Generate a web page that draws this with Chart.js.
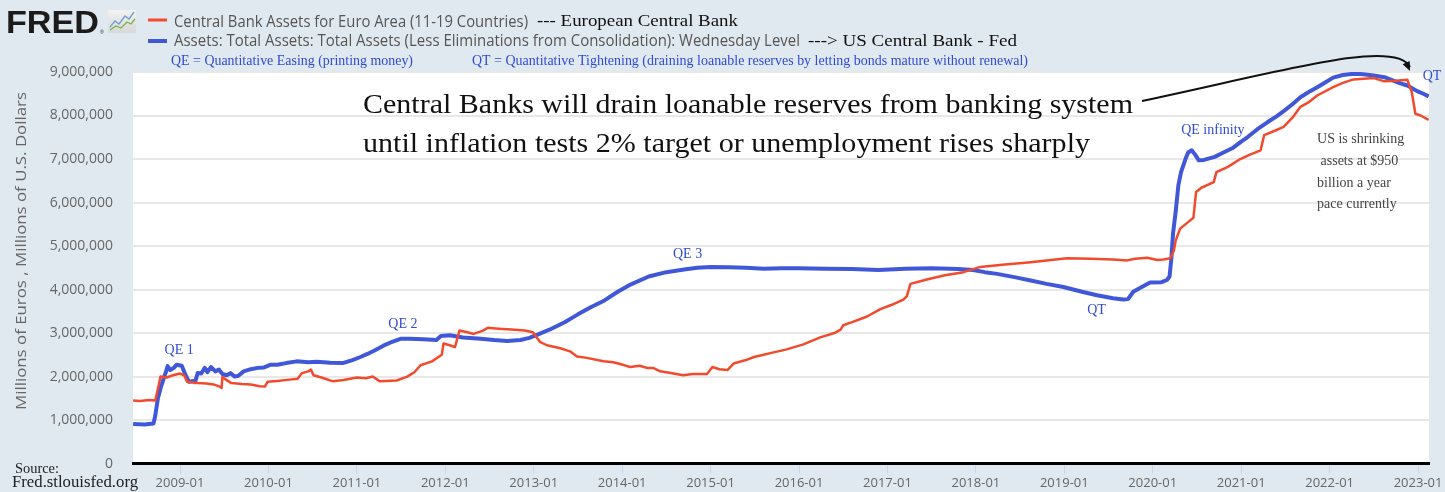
<!DOCTYPE html>
<html>
<head>
<meta charset="utf-8">
<script src="https://cdn.jsdelivr.net/npm/chart.js@4.4.1/dist/chart.umd.min.js"></script>
<style>
  html, body { margin: 0; padding: 0; background: #e1e9f0; overflow: hidden; }
  #wrap { position: relative; width: 1445px; height: 492px; }
</style>
</head>
<body>
<div id="wrap"><canvas id="fred" width="1445" height="492"></canvas></div>
<script>
// Fed total assets (WALCL), millions of U.S. dollars, x = decimal year
const fedDates = [
  2008.47, 2008.60, 2008.70, 2008.72, 2008.75, 2008.79, 2008.84, 2008.86, 2008.89, 2008.93,
  2008.96, 2009.02, 2009.06, 2009.10, 2009.15, 2009.17, 2009.20, 2009.24, 2009.28, 2009.31,
  2009.35, 2009.40, 2009.44, 2009.48, 2009.53, 2009.57, 2009.62, 2009.66, 2009.72, 2009.80,
  2009.88, 2009.95, 2010.02, 2010.10, 2010.20, 2010.32, 2010.45, 2010.55, 2010.70, 2010.84,
  2010.95, 2011.04, 2011.12, 2011.20, 2011.30, 2011.40, 2011.50, 2011.60, 2011.75, 2011.90,
  2011.95, 2012.05, 2012.20, 2012.40, 2012.55, 2012.70, 2012.85, 2012.95, 2013.05, 2013.20,
  2013.35, 2013.50, 2013.65, 2013.80, 2013.95, 2014.10, 2014.30, 2014.50, 2014.70, 2014.85,
  2015.00, 2015.20, 2015.40, 2015.60, 2015.80, 2016.00, 2016.30, 2016.60, 2016.90, 2017.20,
  2017.50, 2017.80, 2017.97, 2018.10, 2018.24, 2018.45, 2018.62, 2018.80, 2018.99, 2019.20,
  2019.37, 2019.55, 2019.67, 2019.72, 2019.78, 2019.85, 2019.97, 2020.10, 2020.16, 2020.19,
  2020.21, 2020.23, 2020.26, 2020.29, 2020.32, 2020.37, 2020.40, 2020.44, 2020.48, 2020.52,
  2020.58, 2020.70, 2020.80, 2020.91, 2021.00, 2021.07, 2021.18, 2021.30, 2021.40, 2021.48,
  2021.58, 2021.67, 2021.78, 2021.86, 2021.95, 2022.04, 2022.15, 2022.27, 2022.38, 2022.50,
  2022.62, 2022.72, 2022.80, 2022.88, 2022.99, 2023.06, 2023.12
];
const fedAssets = [
  910000, 900000, 920000, 1100000, 1500000, 1800000, 2100000, 2240000, 2150000, 2200000,
  2270000, 2250000, 2050000, 1880000, 1900000, 1870000, 2080000, 2070000, 2200000, 2100000,
  2220000, 2120000, 2160000, 2060000, 2030000, 2080000, 2000000, 2020000, 2120000, 2170000,
  2200000, 2210000, 2270000, 2270000, 2310000, 2350000, 2330000, 2340000, 2320000, 2310000,
  2380000, 2450000, 2520000, 2600000, 2710000, 2800000, 2870000, 2870000, 2860000, 2840000,
  2930000, 2950000, 2900000, 2870000, 2840000, 2820000, 2840000, 2890000, 2970000, 3100000,
  3250000, 3430000, 3600000, 3750000, 3950000, 4120000, 4300000, 4400000, 4460000, 4500000,
  4520000, 4510000, 4500000, 4480000, 4490000, 4490000, 4480000, 4470000, 4450000, 4480000,
  4490000, 4470000, 4450000, 4400000, 4360000, 4280000, 4210000, 4130000, 4060000, 3950000,
  3870000, 3800000, 3770000, 3780000, 3950000, 4030000, 4160000, 4170000, 4220000, 4300000,
  4700000, 5300000, 5800000, 6400000, 6700000, 7000000, 7150000, 7200000, 7100000, 6970000,
  6980000, 7050000, 7150000, 7260000, 7400000, 7500000, 7680000, 7850000, 7980000, 8100000,
  8260000, 8420000, 8560000, 8650000, 8760000, 8870000, 8930000, 8960000, 8950000, 8920000,
  8880000, 8800000, 8740000, 8690000, 8560000, 8500000, 8440000
];

// ECB central bank assets for euro area, millions of euros
const ecbDates = [
  2008.47, 2008.55, 2008.65, 2008.72, 2008.75, 2008.78, 2008.85, 2008.92, 2009.00, 2009.05,
  2009.08, 2009.20, 2009.30, 2009.38, 2009.45, 2009.47, 2009.48, 2009.52, 2009.58, 2009.70,
  2009.80, 2009.90, 2009.96, 2009.99, 2010.10, 2010.24, 2010.33, 2010.38, 2010.45, 2010.48,
  2010.51, 2010.60, 2010.73, 2010.85, 2011.00, 2011.10, 2011.18, 2011.26, 2011.45, 2011.57,
  2011.65, 2011.72, 2011.85, 2011.96, 2011.98, 2012.05, 2012.11, 2012.16, 2012.25, 2012.32,
  2012.42, 2012.48, 2012.60, 2012.75, 2012.90, 2012.99, 2013.07, 2013.15, 2013.30, 2013.41,
  2013.49, 2013.60, 2013.79, 2013.90, 2014.01, 2014.09, 2014.20, 2014.28, 2014.35, 2014.43,
  2014.55, 2014.69, 2014.80, 2014.96, 2015.02, 2015.10, 2015.19, 2015.26, 2015.40, 2015.49,
  2015.60, 2015.70, 2015.85, 2016.05, 2016.24, 2016.40, 2016.47, 2016.50, 2016.60, 2016.77,
  2016.92, 2017.05, 2017.18, 2017.22, 2017.26, 2017.35, 2017.48, 2017.65, 2017.86, 2018.05,
  2018.30, 2018.62, 2018.85, 2019.03, 2019.30, 2019.55, 2019.71, 2019.80, 2019.94, 2020.05,
  2020.12, 2020.20, 2020.24, 2020.26, 2020.31, 2020.40, 2020.46, 2020.49, 2020.55, 2020.69,
  2020.72, 2020.85, 2020.99, 2021.10, 2021.22, 2021.26, 2021.38, 2021.48, 2021.58, 2021.67,
  2021.76, 2021.86, 2022.04, 2022.15, 2022.27, 2022.50, 2022.61, 2022.75, 2022.88, 2022.93,
  2022.97, 2023.03, 2023.12
];
const ecbAssets = [
  1450000, 1440000, 1460000, 1450000, 1720000, 2000000, 1980000, 2030000, 2070000, 2020000,
  1880000, 1850000, 1840000, 1820000, 1770000, 1740000, 1990000, 1930000, 1850000, 1830000,
  1820000, 1780000, 1770000, 1880000, 1900000, 1930000, 1950000, 2080000, 2120000, 2160000,
  2030000, 1980000, 1890000, 1920000, 1980000, 1960000, 2000000, 1890000, 1910000, 2000000,
  2100000, 2260000, 2350000, 2500000, 2760000, 2720000, 2680000, 3060000, 3020000, 2980000,
  3050000, 3120000, 3100000, 3080000, 3060000, 3020000, 2800000, 2720000, 2650000, 2580000,
  2460000, 2430000, 2350000, 2330000, 2270000, 2220000, 2250000, 2200000, 2200000, 2120000,
  2080000, 2030000, 2060000, 2060000, 2220000, 2170000, 2150000, 2300000, 2380000, 2450000,
  2500000, 2550000, 2620000, 2740000, 2900000, 3000000, 3080000, 3180000, 3250000, 3380000,
  3550000, 3650000, 3770000, 3850000, 4130000, 4180000, 4250000, 4330000, 4400000, 4520000,
  4570000, 4630000, 4680000, 4720000, 4710000, 4690000, 4670000, 4710000, 4730000, 4680000,
  4690000, 4720000, 4900000, 5130000, 5400000, 5550000, 5650000, 6240000, 6340000, 6470000,
  6700000, 6820000, 7000000, 7100000, 7200000, 7550000, 7650000, 7740000, 7950000, 8200000,
  8300000, 8460000, 8650000, 8750000, 8830000, 8860000, 8790000, 8800000, 8820000, 8530000,
  8040000, 8000000, 7900000
];

const yearTicks = [2009, 2010, 2011, 2012, 2013, 2014, 2015, 2016, 2017, 2018, 2019, 2020, 2021, 2022, 2023];

const ecbLabel = 'Central Bank Assets for Euro Area (11-19 Countries)';
const fedLabel = 'Assets: Total Assets: Total Assets (Less Eliminations from Consolidation): Wednesday Level';
const yTitle = 'Millions of Euros , Millions of U.S. Dollars';

// text notes placed at (year, value) on the chart
const notes = [
  { text: 'QE 1', year: 2008.99, value: 2610000 },
  { text: 'QE 2', year: 2011.52, value: 3206000 },
  { text: 'QE 3', year: 2014.74, value: 4809000 },
  { text: 'QT', year: 2019.365, value: 3526000 },
  { text: 'QE infinity', year: 2020.68, value: 7655000 },
  { text: 'QT', year: 2023.158, value: 8908000 }
];
const shrinkNote = [
  { text: 'US is shrinking', year: 2021.858, value: 7458000 },
  { text: ' assets at $950', year: 2021.858, value: 6945000 },
  { text: 'billion a year', year: 2021.858, value: 6451000 },
  { text: 'pace currently', year: 2021.858, value: 5954000 }
];

const SERIF = "'Liberation Serif', 'Times New Roman', serif";
const SANS = "'Open Sans', sans-serif";
const BLUE = '#4058d8';
const RED = '#f24a2c';
const NOTE_BLUE = '#2f4bd6';

// draw text stretched/squeezed horizontally to a given width
function fitText(ctx, s, x, y, font, color, width, align) {
  ctx.save();
  ctx.font = font;
  ctx.fillStyle = color;
  ctx.textAlign = 'left';
  const w = ctx.measureText(s).width;
  ctx.translate(x, y);
  const k = width ? width / w : 1;
  ctx.scale(k, 1);
  ctx.fillText(s, align === 'center' ? -w / 2 : 0, 0);
  ctx.restore();
}

const decor = {
  id: 'decor',
  beforeDraw(chart) {
    const { ctx, chartArea: a } = chart;
    ctx.save();
    ctx.fillStyle = '#e1e9f0';
    ctx.fillRect(0, 0, chart.width, chart.height);
    ctx.fillStyle = '#ffffff';
    ctx.fillRect(a.left, a.top, a.right - a.left, a.bottom - a.top);
    ctx.restore();
  },
  afterDraw(chart) {
    const { ctx } = chart;
    const xs = chart.scales.x, ys = chart.scales.y;
    ctx.save();
    ctx.textBaseline = 'alphabetic';

    // FRED logo
    fitText(ctx, 'FRED', 6, 33, 'bold 32px "Liberation Sans", Arial, sans-serif', '#1b1b1b', 93);
    ctx.fillStyle = '#1b1b1b';
    ctx.font = '5px "Liberation Sans", sans-serif';
    ctx.fillText('®', 100, 34);
    const g = ctx.createLinearGradient(0, 10, 0, 33);
    g.addColorStop(0, '#f2f2f2'); g.addColorStop(1, '#d8d8d8');
    ctx.fillStyle = g;
    ctx.fillRect(108, 10, 28, 23);
    ctx.lineWidth = 1.3;
    ctx.strokeStyle = '#6e9fd0';
    ctx.beginPath(); ctx.moveTo(110, 27); ctx.lineTo(115, 21); ctx.lineTo(119, 24); ctx.lineTo(125, 16); ctx.lineTo(129, 19); ctx.lineTo(134, 12); ctx.stroke();
    ctx.strokeStyle = '#7bb04c';
    ctx.beginPath(); ctx.moveTo(110, 30); ctx.lineTo(116, 26); ctx.lineTo(121, 28); ctx.lineTo(127, 22); ctx.lineTo(131, 24); ctx.lineTo(135, 19); ctx.stroke();

    // legend
    ctx.lineWidth = 3;
    ctx.strokeStyle = RED;
    ctx.beginPath(); ctx.moveTo(148, 20); ctx.lineTo(167, 20); ctx.stroke();
    ctx.lineWidth = 4;
    ctx.strokeStyle = BLUE;
    ctx.beginPath(); ctx.moveTo(148, 41); ctx.lineTo(167, 41); ctx.stroke();
    fitText(ctx, ecbLabel, 174, 26.5, '15.5px ' + SANS, '#555555', 354);
    fitText(ctx, '--- European Central Bank', 537, 26, '17.5px ' + SERIF, '#111111', 201);
    fitText(ctx, fedLabel, 174, 46, '15.5px ' + SANS, '#555555', 626);
    fitText(ctx, '---> US Central Bank - Fed', 808, 46, '17.5px ' + SERIF, '#111111', 209);
    fitText(ctx, 'QE = Quantitative Easing (printing money)', 171, 64.5, '14.5px ' + SERIF, NOTE_BLUE, 242);
    fitText(ctx, 'QT = Quantitative Tightening (draining loanable reserves by letting bonds mature without renewal)', 472, 64.5, '14.5px ' + SERIF, NOTE_BLUE, 556);

    // y axis title
    ctx.save();
    ctx.translate(22, 251);
    ctx.rotate(-Math.PI / 2);
    ctx.textBaseline = 'middle';
    fitText(ctx, yTitle, 0, 0, '14px ' + SANS, '#666666', 318, 'center');
    ctx.restore();

    // source
    fitText(ctx, 'Source:', 15, 473, '15px ' + SERIF, '#222222', 44);
    fitText(ctx, 'Fred.stlouisfed.org', 12, 487, '16px ' + SERIF, '#222222', 126);

    // big message
    fitText(ctx, 'Central Banks will drain loanable reserves from banking system', 363, 113, '28px ' + SERIF, '#111111', 770);
    fitText(ctx, 'until inflation tests 2% target or unemployment rises sharply', 363, 152, '28px ' + SERIF, '#111111', 727);

    // curved arrow to the recent drawdown
    const p0 = [1142, 101], p1 = [1280, 72], p2 = [1395, 38], p3 = [1410, 71];
    ctx.strokeStyle = '#111111';
    ctx.lineWidth = 2;
    ctx.beginPath();
    ctx.moveTo(p0[0], p0[1]);
    ctx.bezierCurveTo(p1[0], p1[1], p2[0], p2[1], p3[0], p3[1] - 4);
    ctx.stroke();
    const ang = Math.atan2(p3[1] - p2[1], p3[0] - p2[0]);
    ctx.fillStyle = '#111111';
    ctx.beginPath();
    ctx.moveTo(p3[0], p3[1]);
    ctx.lineTo(p3[0] - 10 * Math.cos(ang - 0.4), p3[1] - 10 * Math.sin(ang - 0.4));
    ctx.lineTo(p3[0] - 10 * Math.cos(ang + 0.4), p3[1] - 10 * Math.sin(ang + 0.4));
    ctx.closePath();
    ctx.fill();

    // QE / QT notes
    ctx.textBaseline = 'middle';
    ctx.textAlign = 'center';
    ctx.fillStyle = NOTE_BLUE;
    ctx.font = '14px ' + SERIF;
    notes.forEach(n => ctx.fillText(n.text, xs.getPixelForValue(n.year), ys.getPixelForValue(n.value)));

    ctx.textAlign = 'left';
    ctx.fillStyle = '#444444';
    ctx.font = '14px ' + SERIF;
    shrinkNote.forEach(n => ctx.fillText(n.text, xs.getPixelForValue(n.year), ys.getPixelForValue(n.value)));
    ctx.restore();
  }
};

const toPoints = (dates, vals) => dates.map((d, i) => ({ x: d, y: vals[i] }));

new Chart(document.getElementById('fred'), {
  type: 'line',
  data: {
    datasets: [
      {
        label: ecbLabel,
        data: toPoints(ecbDates, ecbAssets),
        borderColor: RED,
        borderWidth: 2.5,
        pointRadius: 0,
        tension: 0,
        fill: false
      },
      {
        label: fedLabel,
        data: toPoints(fedDates, fedAssets),
        borderColor: BLUE,
        borderWidth: 4,
        pointRadius: 0,
        tension: 0,
        fill: false
      }
    ]
  },
  options: {
    responsive: false,
    animation: false,
    devicePixelRatio: 1,
    borderJoinStyle: 'round',
    layout: { padding: { top: 72, right: 16, left: 0, bottom: 0 } },
    plugins: { legend: { display: false }, tooltip: { enabled: false } },
    scales: {
      x: {
        type: 'linear',
        min: 2008.4685,
        max: 2023.124,
        afterBuildTicks: s => { s.ticks = yearTicks.map(v => ({ value: v })); },
        afterFit: s => { s.height = 27; },
        ticks: {
          autoSkip: false,
          maxRotation: 0,
          padding: 2,
          color: '#666666',
          font: { family: SANS, size: 13 },
          callback: v => v + '-01'
        },
        grid: { drawOnChartArea: false, drawTicks: true, tickLength: 10, color: '#ccd6eb', lineWidth: 1 },
        border: { display: true, color: '#000000', width: 3 }
      },
      y: {
        min: 0,
        max: 9000000,
        afterFit: s => { s.width = 133; },
        ticks: {
          stepSize: 1000000,
          padding: 20,
          color: '#666666',
          font: { family: SANS, size: 14 },
          callback: v => v.toLocaleString('en-US')
        },
        grid: { drawTicks: false, color: '#e8e8e8', lineWidth: 2 },
        border: { display: false }
      }
    }
  },
  plugins: [decor]
});
</script>
</body>
</html>
